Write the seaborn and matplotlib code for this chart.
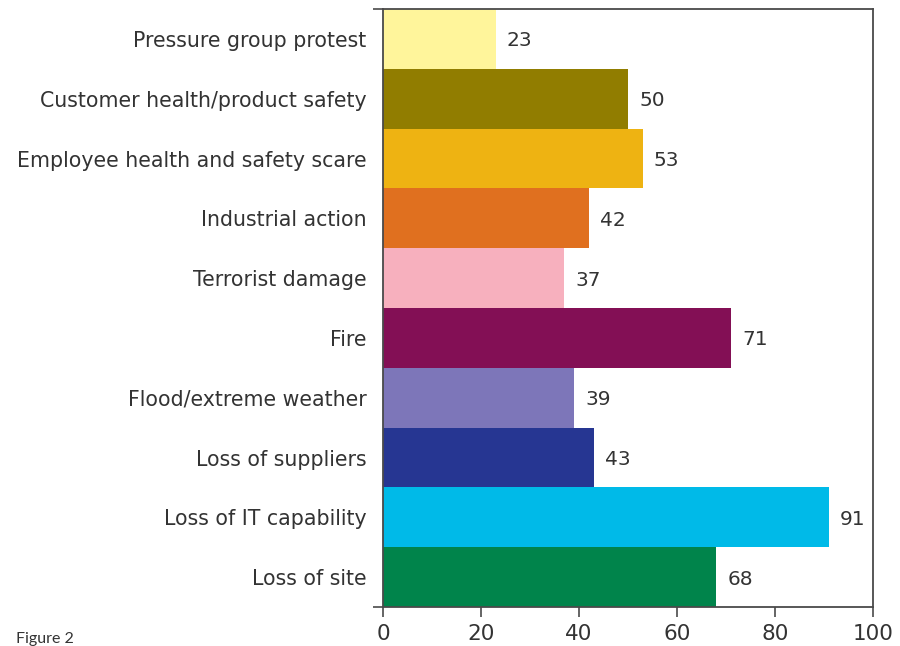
import matplotlib
matplotlib.use("Agg")
import matplotlib.pyplot as plt
import seaborn as sns
import pandas as pd

# Incident categories (top to bottom) and the share of respondents for each
categories = [
    "Pressure group protest",
    "Customer health/product safety",
    "Employee health and safety scare",
    "Industrial action",
    "Terrorist damage",
    "Fire",
    "Flood/extreme weather",
    "Loss of suppliers",
    "Loss of IT capability",
    "Loss of site",
]
values = [23, 50, 53, 42, 37, 71, 39, 43, 91, 68]
bar_colors = [
    "#FFF59B", "#917D00", "#EEB312", "#E0701F", "#F7B0BE",
    "#830F55", "#7D76B9", "#263692", "#00BAE8", "#00844B",
]
x_ticks = [0, 20, 40, 60, 80, 100]

sns.set_theme(style="white")
plt.rcParams["font.family"] = ["DejaVu Sans"]

df = pd.DataFrame({"category": categories, "value": values})

fig = plt.figure(figsize=(9, 6.46), dpi=100)
ax = fig.add_axes([0.4256, 0.0603, 0.5444, 0.9257])

sns.barplot(
    data=df, x="value", y="category", hue="category",
    palette=bar_colors, width=1.0, orient="h", legend=False,
    saturation=1, ax=ax, linewidth=0,
)

ax.set_xlim(0, 100)
ax.set_ylim(len(categories) - 0.5, -0.5)
ax.set_xticks(x_ticks)
ax.set_xlabel("")
ax.set_ylabel("")

text_color = "#333333"
spine_color = "#4a4a4a"
for side in ["left", "right", "top", "bottom"]:
    ax.spines[side].set_visible(True)
    ax.spines[side].set_color(spine_color)
    ax.spines[side].set_linewidth(1.3)

ax.tick_params(axis="x", which="major", direction="out", length=7.5, width=1.2,
               color=spine_color, labelsize=15.5, labelcolor=text_color, pad=5, bottom=True)
ax.tick_params(axis="y", which="major", length=0, labelsize=14.8,
               labelcolor=text_color, pad=12)
# short outward marks at the top and bottom ends of the category axis
ax.set_yticks([-0.5, len(categories) - 0.5], minor=True)
ax.tick_params(axis="y", which="minor", direction="out", length=7.5, width=1.2,
               color=spine_color, left=True)

for i, v in enumerate(values):
    ax.annotate(str(v), xy=(v, i), xytext=(8, 0), textcoords="offset points",
                ha="left", va="center_baseline", fontsize=14.5, color=text_color)

fig.text(16 / 900, 1 - 643 / 646, "Figure 2", fontsize=11.5, color=text_color,
         family=["Lato", "DejaVu Sans"], va="baseline", ha="left")

fig.savefig("out.png", dpi=100)
